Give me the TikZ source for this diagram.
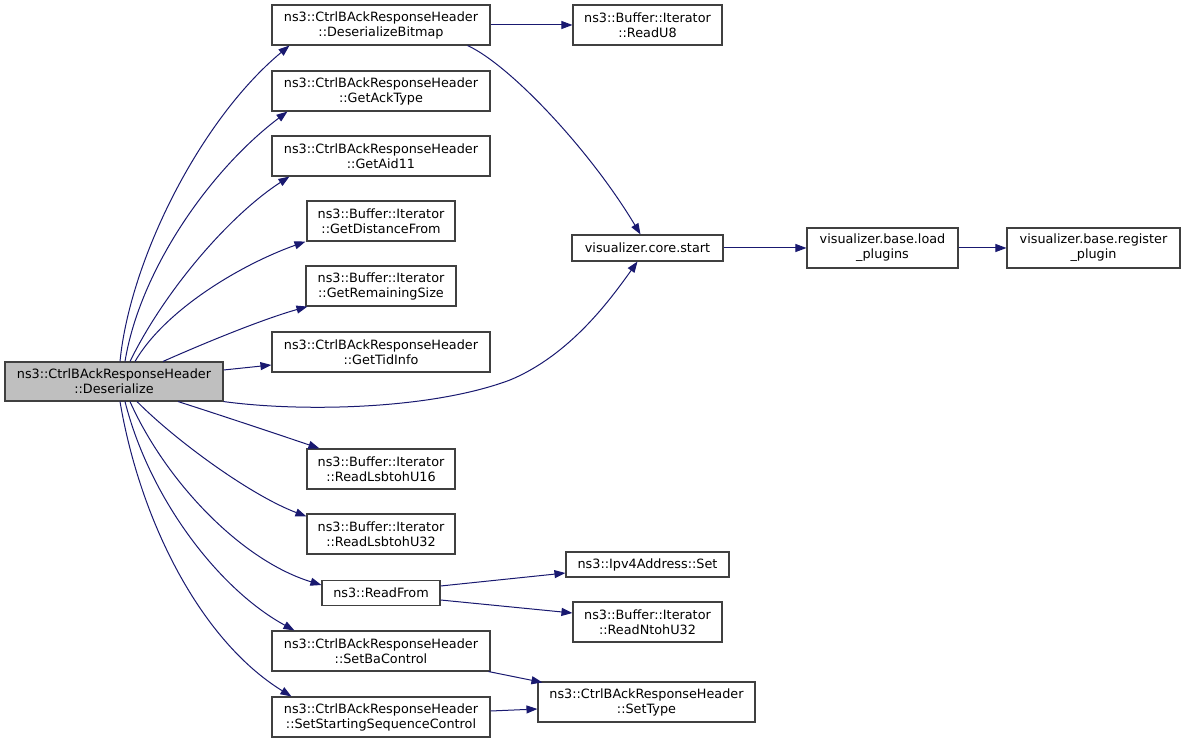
\documentclass[tikz,border=0pt]{standalone}
\usepackage{fontspec}
\setmainfont{DejaVu Sans}
\usetikzlibrary{arrows.meta,calc}
\definecolor{edgeblue}{HTML}{191970}
\definecolor{rootgray}{HTML}{BFBFBF}
\definecolor{boxline}{HTML}{404040}
\begin{document}
\begin{tikzpicture}[x=1pt,y=-1pt,
  fn/.style={draw=boxline, line width=1.1pt, fill=white, inner sep=0pt, align=center,
             font=\fontsize{12.8}{15}\selectfont},
  fnroot/.style={fn, fill=rootgray},
  edge/.style={draw=edgeblue, line width=1pt, -{Triangle[length=11pt,width=8pt]}, fill=none}]
\useasboundingbox[fill=white] (0,0) rectangle (1184,743);

% nodes
\node[fnroot, minimum width=218, minimum height=39] (des) at (114,381.5) {ns3::CtrlBAckResponseHeader\\::Deserialize};
\node[fn, minimum width=218, minimum height=40] (dbm) at (381,25) {ns3::CtrlBAckResponseHeader\\::DeserializeBitmap};
\node[fn, minimum width=218, minimum height=40] (ack) at (381,91) {ns3::CtrlBAckResponseHeader\\::GetAckType};
\node[fn, minimum width=218, minimum height=40] (aid) at (381,156) {ns3::CtrlBAckResponseHeader\\::GetAid11};
\node[fn, minimum width=148, minimum height=40] (gdf) at (381,221) {ns3::Buffer::Iterator\\::GetDistanceFrom};
\node[fn, minimum width=150, minimum height=40] (grs) at (381,286) {ns3::Buffer::Iterator\\::GetRemainingSize};
\node[fn, minimum width=218, minimum height=40] (tid) at (381,352) {ns3::CtrlBAckResponseHeader\\::GetTidInfo};
\node[fn, minimum width=148, minimum height=40] (u16) at (381,469) {ns3::Buffer::Iterator\\::ReadLsbtohU16};
\node[fn, minimum width=148, minimum height=40] (u32) at (381,534) {ns3::Buffer::Iterator\\::ReadLsbtohU32};
\node[fn, minimum width=118, minimum height=25] (rf) at (381,593) {ns3::ReadFrom};
\node[fn, minimum width=218, minimum height=40] (sba) at (381,651) {ns3::CtrlBAckResponseHeader\\::SetBaControl};
\node[fn, minimum width=218, minimum height=40] (ssc) at (381,717) {ns3::CtrlBAckResponseHeader\\::SetStartingSequenceControl};
\node[fn, minimum width=149, minimum height=40] (u8) at (647.5,25) {ns3::Buffer::Iterator\\::ReadU8};
\node[fn, minimum width=151, minimum height=26] (cs) at (647.5,248) {visualizer.core.start};
\node[fn, minimum width=151, minimum height=40] (lp) at (882.5,248) {visualizer.base.load\\\_plugins};
\node[fn, minimum width=173, minimum height=40] (rp) at (1093.5,248) {visualizer.base.register\\\_plugin};
\node[fn, minimum width=163, minimum height=25] (ip) at (647.5,564.5) {ns3::Ipv4Address::Set};
\node[fn, minimum width=149, minimum height=40] (ntoh) at (647.5,622) {ns3::Buffer::Iterator\\::ReadNtohU32};
\node[fn, minimum width=217, minimum height=40] (st) at (646.5,702) {ns3::CtrlBAckResponseHeader\\::SetType};

% edges from the root, upward
\draw[edge] ($(des.north)+(6,0)$) .. controls (130,260) and (200,120) .. ($(dbm.south west)+(18,0)$);
\draw[edge] ($(des.north)+(11,0)$) .. controls (140,270) and (210,170) .. ($(ack.south west)+(16,0)$);
\draw[edge] ($(des.north)+(16,0)$) .. controls (165,290) and (230,215) .. ($(aid.south west)+(18,0)$);
\draw[edge] ($(des.north)+(21,0)$) .. controls (165,310) and (240,265) .. ($(gdf.south west)+(-1,0)$);
\draw[edge] ($(des.north)+(49,0)$) .. controls (200,345) and (260,320) .. ($(grs.south west)+(2,0)$);
\draw[edge] ($(des.east)+(0,-11.5)$) -- ($(tid.west)+(0,13)$);
\draw[edge] (des.south east) .. controls (300,412) and (430,410) .. (510,380)
            .. controls (570,355) and (610,300) .. ($(cs.south)+(-10,0)$);

% edges from the root, downward
\draw[edge] ($(des.south)+(64,0)$) .. controls (220,415) and (280,435) .. ($(u16.north west)+(13,0)$);
\draw[edge] ($(des.south)+(23,0)$) .. controls (175,440) and (250,495) .. ($(u32.north west)+(0,3)$);
\draw[edge] ($(des.south)+(16,0)$) .. controls (165,480) and (240,560) .. ($(rf.west)+(0,-8)$);
\draw[edge] ($(des.south)+(11,0)$) .. controls (150,500) and (220,590) .. ($(sba.north west)+(23,0)$);
\draw[edge] ($(des.south)+(6,0)$) .. controls (140,520) and (200,640) .. ($(ssc.north west)+(20,0)$);

% other edges
\draw[edge] (dbm.east) -- (u8.west);
\draw[edge] ($(dbm.south east)+(-23,0)$) .. controls (510,65) and (590,150) .. ($(cs.north)+(-7,0)$);
\draw[edge] (cs.east) -- (lp.west);
\draw[edge] (lp.east) -- (rp.west);
\draw[edge] ($(rf.east)+(0,-7)$) -- ($(ip.west)+(0,8.5)$);
\draw[edge] ($(rf.east)+(0,7)$) -- ($(ntoh.west)+(0,-9)$);
\draw[edge] ($(sba.south east)+(-2,0)$) -- ($(st.north west)+(5,1)$);
\draw[edge] ($(ssc.east)+(0,-6)$) -- ($(st.west)+(0,7)$);
\end{tikzpicture}
\end{document}
